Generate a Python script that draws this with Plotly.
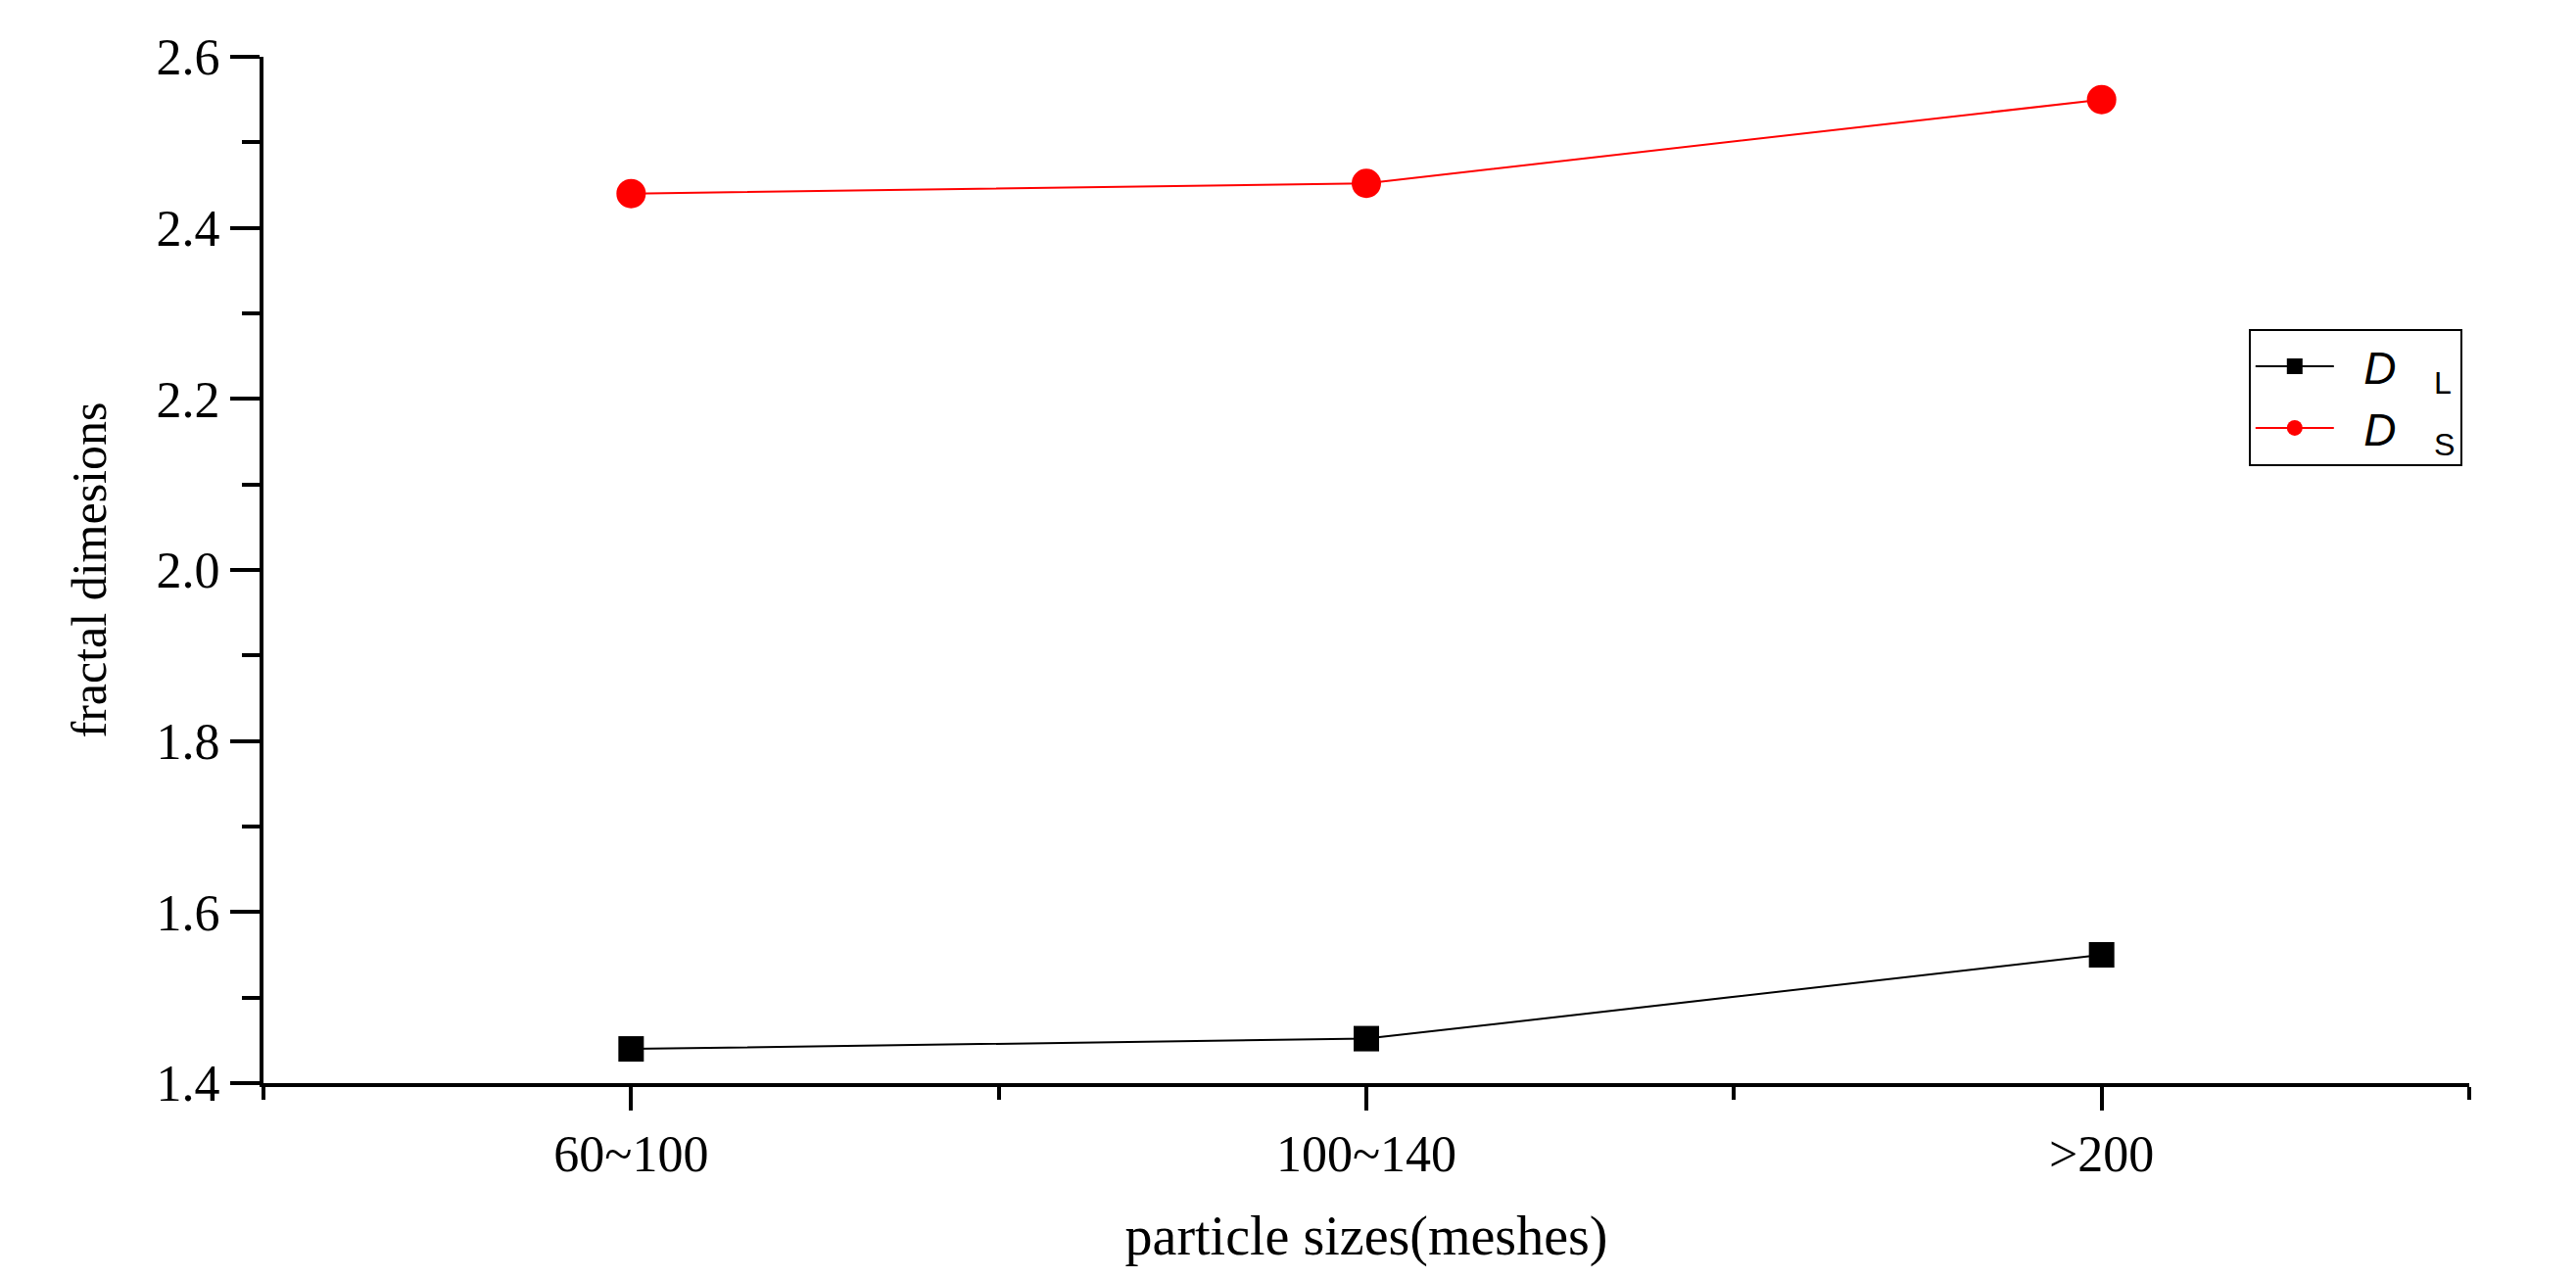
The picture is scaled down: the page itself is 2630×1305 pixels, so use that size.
import plotly.graph_objects as go

categories = ["60~100", "100~140", ">200"]
x_pos = [0, 1, 2]
DL = [1.44, 1.452, 1.55]
DS = [2.44, 2.452, 2.55]
y_ticks = [1.4, 1.6, 1.8, 2.0, 2.2, 2.4, 2.6]

font = "Liberation Serif"
fig = go.Figure()
fig.add_trace(go.Scatter(x=x_pos, y=DL, mode="lines+markers", name="  <i>D</i>   <sub>L</sub>",
                         line=dict(color="black", width=2),
                         marker=dict(symbol="square", size=26, color="black")))
fig.add_trace(go.Scatter(x=x_pos, y=DS, mode="lines+markers", name="  <i>D</i>   <sub>S</sub>",
                         line=dict(color="red", width=2),
                         marker=dict(symbol="circle", size=30, color="red")))

fig.update_layout(
    width=2630, height=1305, paper_bgcolor="white", plot_bgcolor="white",
    margin=dict(l=261, r=117, t=50, b=207),
    showlegend=True,
    legend=dict(x=0.9, y=0.735, xanchor="left", yanchor="top",
                bordercolor="black", borderwidth=2, bgcolor="white",
                font=dict(family="Liberation Sans", size=46, color="black"),
                itemwidth=80, entrywidth=230, tracegroupgap=4),
    xaxis=dict(range=[-0.5, 2.5], tickvals=x_pos, ticktext=categories,
               showgrid=False, zeroline=False, showline=True, linecolor="black", linewidth=4,
               ticks="outside", ticklen=24, tickwidth=4, tickcolor="black",
               tickfont=dict(family=font, size=52, color="black"),
               minor=dict(tickvals=[-0.5, 0.5, 1.5, 2.5], ticks="outside", ticklen=13, tickwidth=4, tickcolor="black"),
               title=dict(text="particle sizes(meshes)",
                          font=dict(family=font, size=56, color="black"), standoff=36)),
    yaxis=dict(range=[1.4, 2.6], tickvals=y_ticks, ticktext=[f"{v:.1f}" for v in y_ticks],
               showgrid=False, zeroline=False, showline=True, linecolor="black", linewidth=4,
               ticks="outside", ticklen=30, tickwidth=4, tickcolor="black",
               tickfont=dict(family=font, size=52, color="black"),
               minor=dict(dtick=0.1, ticks="outside", ticklen=18, tickwidth=4, tickcolor="black"),
               title=dict(text="fractal dimesions", font=dict(family=font, size=50, color="black"), standoff=36)),
)
fig.write_html("out.html")
